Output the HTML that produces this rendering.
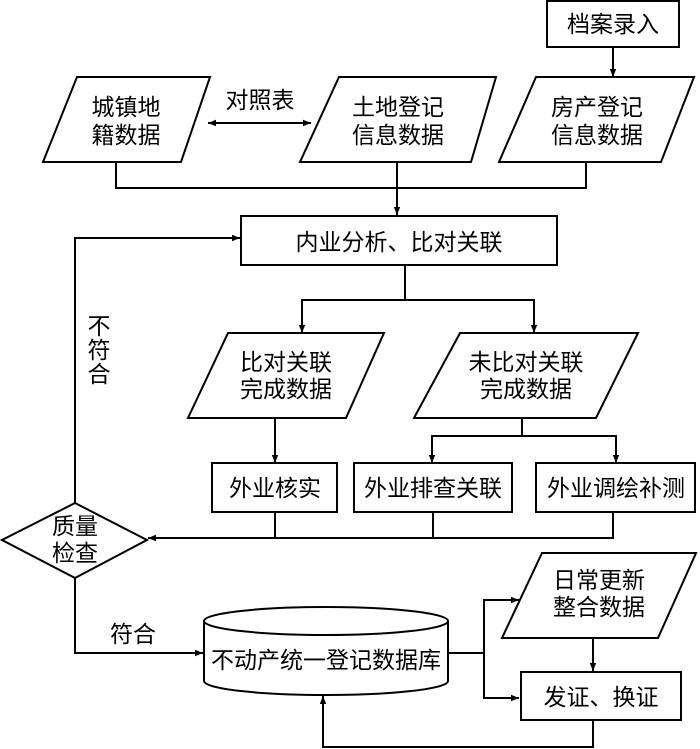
<!DOCTYPE html>
<html><head><meta charset="utf-8"><style>
html,body{margin:0;padding:0;background:#fff;}
svg{display:block;}
text{font-family:"Liberation Sans","Noto Sans CJK SC","WenQuanYi Zen Hei",sans-serif;font-size:23px;fill:#000;text-anchor:middle;}
</style></head><body>
<svg width="700" height="749" viewBox="0 0 700 749" xmlns="http://www.w3.org/2000/svg">
<defs>
<marker id="a" viewBox="0 0 10 10" refX="10" refY="5" markerWidth="8" markerHeight="8" orient="auto-start-reverse" markerUnits="userSpaceOnUse"><path d="M0,1 L10,5 L0,9 z" fill="#000"/></marker>
</defs>
<g fill="none" stroke="#000" stroke-width="2">
<rect x="547" y="1" width="132" height="46"/>
<line x1="613" y1="47" x2="613" y2="77" marker-end="url(#a)"/>
<polygon points="77,77 210,77 181,162 43,162"/>
<polygon points="339,77 496,77 471,162 300,162"/>
<polygon points="536,77 694,77 661,162 499,162"/>
<line x1="208" y1="123" x2="311" y2="123" marker-start="url(#a)" marker-end="url(#a)"/>
<polyline points="116,162 116,188 586,188 586,162"/>
<line x1="397" y1="162" x2="397" y2="215" marker-end="url(#a)"/>
<rect x="241" y="216" width="316" height="49"/>
<polyline points="75,503 75,238 240,238" marker-end="url(#a)"/>
<line x1="405" y1="265" x2="405" y2="300"/>
<polyline points="302,333 302,300 534,300 534,333" marker-start="url(#a)" marker-end="url(#a)"/>
<polygon points="228,333 384,333 346,418 188,418"/>
<polygon points="460,333 638,333 596,418 414,418"/>
<line x1="275" y1="418" x2="275" y2="463" marker-end="url(#a)"/>
<line x1="522" y1="418" x2="522" y2="436"/>
<polyline points="432,463 432,436 616,436 616,463" marker-start="url(#a)" marker-end="url(#a)"/>
<rect x="212" y="463" width="125" height="49"/>
<rect x="354" y="463" width="158" height="49"/>
<rect x="536" y="463" width="159" height="49"/>
<line x1="275" y1="512" x2="275" y2="538"/>
<line x1="433" y1="512" x2="433" y2="538"/>
<polyline points="613,512 613,538 148,538" marker-end="url(#a)"/>
<polygon points="75,503 147,540 75,578 2,540"/>
<polyline points="75,578 75,653 203,653" marker-end="url(#a)"/>
<path d="M204,621 L204,681 A122,14 0 0 0 448,681 L448,621"/>
<ellipse cx="326" cy="621" rx="122" ry="14"/>
<line x1="448" y1="653" x2="484" y2="653"/>
<polyline points="519,600 484,600 484,698 519,698" marker-start="url(#a)" marker-end="url(#a)"/>
<polygon points="542,553 696,553 658,638 502,638"/>
<line x1="593" y1="638" x2="593" y2="671" marker-end="url(#a)"/>
<rect x="521" y="672" width="160" height="48"/>
<polyline points="593,720 593,747 323,747 323,696" marker-end="url(#a)"/>
</g>
<text x="613" y="32">档案录入</text>
<text x="126" y="115">城镇地</text>
<text x="126" y="143">籍数据</text>
<text x="260" y="108">对照表</text>
<text x="398" y="115">土地登记</text>
<text x="398" y="143">信息数据</text>
<text x="597" y="115">房产登记</text>
<text x="597" y="143">信息数据</text>
<text x="399" y="250">内业分析、比对关联</text>
<text x="99" y="334">不</text>
<text x="99" y="358">符</text>
<text x="99" y="382">合</text>
<text x="286" y="370">比对关联</text>
<text x="286" y="397">完成数据</text>
<text x="526" y="370">未比对关联</text>
<text x="526" y="397">完成数据</text>
<text x="275" y="496">外业核实</text>
<text x="433" y="496">外业排查关联</text>
<text x="616" y="496">外业调绘补测</text>
<text x="75" y="534">质量</text>
<text x="75" y="561">检查</text>
<text x="133" y="642">符合</text>
<text x="326" y="668">不动产统一登记数据库</text>
<text x="599" y="588">日常更新</text>
<text x="599" y="615">整合数据</text>
<text x="601" y="705">发证、换证</text>
</svg>
</body></html>
